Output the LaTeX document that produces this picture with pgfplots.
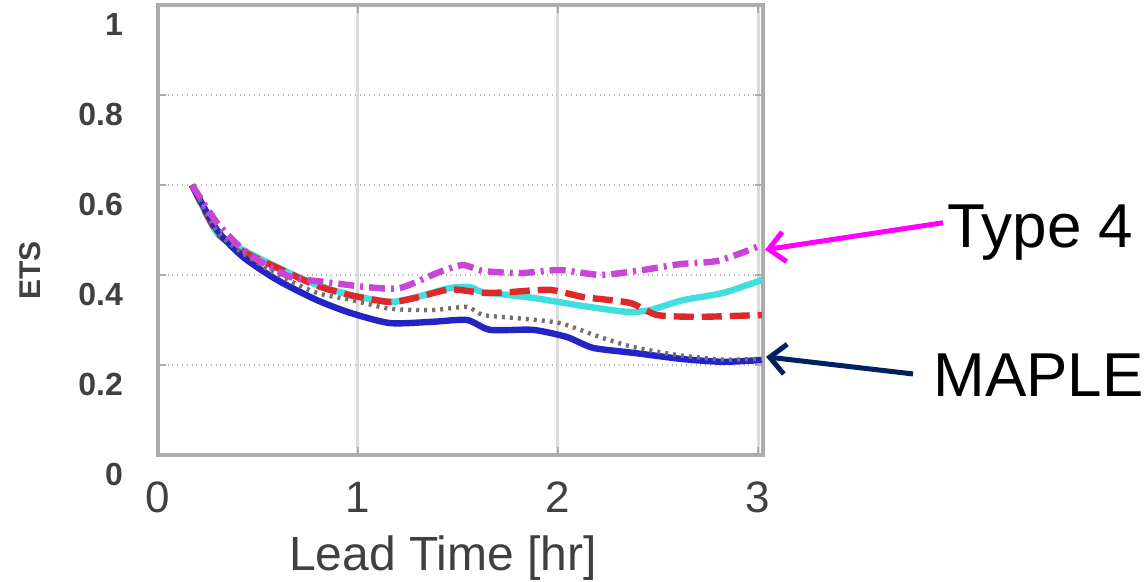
\documentclass[border=0pt]{standalone}
\usepackage{fontspec}
\setmainfont{Liberation Sans}
\usepackage{pgfplots}
\pgfplotsset{compat=1.18}
\usetikzlibrary{arrows.meta}

\definecolor{typefour}{HTML}{C845D8}
\definecolor{cyanline}{HTML}{40DEDE}
\definecolor{redline}{HTML}{E02828}
\definecolor{mapleblue}{HTML}{2424C4}
\definecolor{dotgray}{HTML}{707070}
\definecolor{arrowmag}{HTML}{FF00FF}
\definecolor{arrownavy}{HTML}{002060}

\begin{document}
\begin{tikzpicture}
\begin{axis}[
  scale only axis,
  width=302.5pt, height=225pt,
  xmin=0, xmax=3.025, ymin=0, ymax=1,
  xtick={0,1,2,3},
  ytick={0,0.2,0.4,0.6,0.8,1},
  /pgf/number format/assume math mode=true,
  axis line style={draw=gray!65, line width=2pt},
  tick style={gray!65, line width=1pt},
  tick align=inside, major tick length=4pt,
  grid=major,
  y grid style={gray!55, dotted, line width=1pt},
  x grid style={gray!28, line width=1.5pt},
  xticklabel style={font=\fontsize{22}{24}\selectfont, text=black!75, yshift=-10pt},
  yticklabel style={font=\fontsize{16}{18}\selectfont\bfseries, text=black!75, xshift=-14pt, yshift=-10pt},
  xlabel={Lead Time [hr]},
  xlabel style={at={(axis description cs:0.471,-0.229)}, anchor=center,
                font=\fontsize{24}{26}\selectfont, text=black!75},
  ylabel={ETS},
  ylabel style={at={(axis description cs:-0.212,0.41)}, anchor=center,
                font=\fontsize{15}{17}\selectfont\bfseries, text=black!75},
  clip=false,
  every axis plot/.append style={smooth, tension=0.4, line join=round, line cap=butt},
]

% cyan, solid
\addplot[cyanline, line width=3.2pt] coordinates {
  (0.17,0.600) (0.295,0.493) (0.425,0.456) (0.625,0.411) (0.795,0.378)
  (0.96,0.356) (1.16,0.340) (1.295,0.351) (1.46,0.371) (1.56,0.373)
  (1.625,0.362) (1.875,0.349) (2.125,0.331) (2.345,0.318) (2.46,0.322)
  (2.625,0.344) (2.825,0.360) (3.02,0.389)
};

% red, dashed
\addplot[redline, line width=3.2pt, dash pattern=on 10pt off 4pt] coordinates {
  (0.17,0.600) (0.295,0.495) (0.425,0.452) (0.625,0.410) (0.795,0.376)
  (0.96,0.355) (1.16,0.340) (1.295,0.350) (1.46,0.368) (1.625,0.360)
  (1.76,0.362) (1.96,0.367) (2.125,0.351) (2.36,0.338) (2.495,0.311)
  (2.71,0.307) (3.02,0.311)
};

% MAPLE, blue solid
\addplot[mapleblue, line width=3.2pt] coordinates {
  (0.17,0.600) (0.295,0.500) (0.425,0.440) (0.595,0.389) (0.795,0.344)
  (0.96,0.316) (1.16,0.293) (1.375,0.296) (1.545,0.300) (1.66,0.278)
  (1.875,0.278) (2.045,0.262) (2.175,0.238) (2.375,0.227) (2.625,0.213)
  (2.825,0.207) (3.02,0.211)
};

% gray, dotted
\addplot[dotgray, line width=2.2pt, dash pattern=on 1.5pt off 2.5pt] coordinates {
  (0.17,0.600) (0.295,0.497) (0.425,0.448) (0.60,0.400) (0.795,0.360)
  (0.96,0.345) (1.16,0.325) (1.375,0.322) (1.545,0.329) (1.625,0.311)
  (1.795,0.304) (2.01,0.293) (2.21,0.262) (2.375,0.240) (2.60,0.222)
  (2.825,0.212) (3.02,0.214)
};

% Type 4, dash-dot
\addplot[typefour, line width=3.2pt, dash pattern=on 8pt off 3pt on 1.5pt off 3pt] coordinates {
  (0.17,0.600) (0.295,0.516) (0.445,0.449) (0.66,0.396) (0.845,0.384)
  (1.045,0.373) (1.21,0.371) (1.41,0.407) (1.525,0.422) (1.625,0.409)
  (1.81,0.404) (2.01,0.411) (2.21,0.400) (2.395,0.409) (2.61,0.424)
  (2.795,0.431) (2.96,0.456) (3.02,0.467)
};

% --- annotations ---
\draw[arrowmag, line width=2.5pt, -{Straight Barb[length=8pt,width=15pt]}]
  (axis cs:3.925,0.516) -- (axis cs:3.035,0.456);
\draw[arrownavy, line width=2.5pt, -{Straight Barb[length=8pt,width=15pt]}]
  (axis cs:3.775,0.180) -- (axis cs:3.04,0.218);
\node[anchor=base west, font=\fontsize{31}{34}\selectfont, inner sep=0pt]
  at (axis cs:3.945,0.462) {Type 4};
\node[anchor=base west, font=\fontsize{31}{34}\selectfont, inner sep=0pt]
  at (axis cs:3.875,0.129) {MAPLE};

\coordinate (bbsw) at (axis cs:-0.79,-0.282);
\coordinate (bbne) at (axis cs:4.95,1.011);
\end{axis}
\pgfresetboundingbox
\path[use as bounding box] (bbsw) rectangle (bbne);
\end{tikzpicture}
\end{document}
